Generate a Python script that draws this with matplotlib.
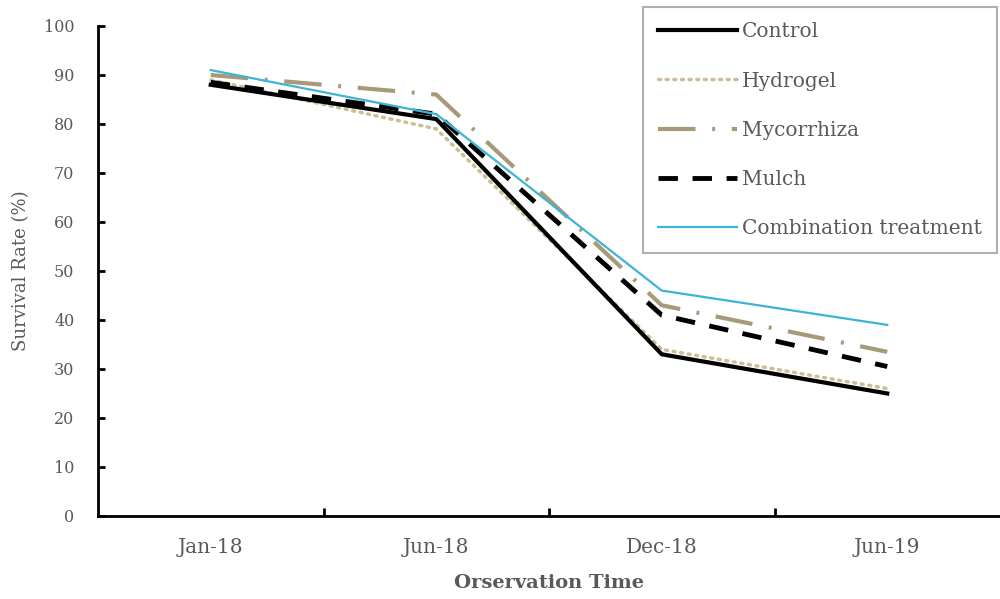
import matplotlib
matplotlib.use("Agg")
import matplotlib.pyplot as plt

# Survival rate (%) per treatment at each observation time
times = ["Jan-18", "Jun-18", "Dec-18", "Jun-19"]
control = [88, 81, 33, 25]
hydrogel = [89, 79, 34, 26]
mycorrhiza = [90, 86, 43, 33.5]
mulch = [88.5, 82, 41, 30.5]
combination = [91, 82, 46, 39]

txt = "#595959"
plt.rcParams["font.family"] = ["DejaVu Serif"]

fig = plt.figure(figsize=(10, 5.99), dpi=100)
ax = fig.add_axes([0.098, 0.1386, 0.902, 0.818])

x = range(len(times))
ax.plot(x, control, color="black", lw=3, label="Control", zorder=3)
ax.plot(x, hydrogel, color="#cbbf98", lw=2.5, ls=(0, (0.6, 1.6)),
        dash_capstyle="round", label="Hydrogel", zorder=2)
ax.plot(x, mycorrhiza, color="#a89a78", lw=3, ls=(0, (9, 4, 0.7, 4)),
        label="Mycorrhiza", zorder=2)
ax.plot(x, mulch, color="black", lw=3.5, ls=(0, (4, 3)),
        label="Mulch", zorder=3)
ax.plot(x, combination, color="#3cb4d6", lw=1.6,
        label="Combination treatment", zorder=4)

ax.set_xlim(-0.5, len(times) - 0.5)
ax.set_ylim(0, 100)
ax.set_yticks(range(0, 101, 10))
ax.set_xticks(list(x))
ax.set_xticklabels(times)
ax.set_xticks([0.5, 1.5, 2.5], minor=True)

for s in ["top", "right"]:
    ax.spines[s].set_visible(False)
for s in ["left", "bottom"]:
    ax.spines[s].set_linewidth(2)

ax.tick_params(axis="y", direction="in", length=5, width=2,
               labelsize=11.5, labelcolor=txt, pad=17)
ax.tick_params(axis="x", which="major", length=0, labelsize=14.5,
               labelcolor=txt, pad=16)
ax.tick_params(axis="x", which="minor", direction="in", length=6, width=2)

ax.set_xlabel("Orservation Time", fontsize=14, fontweight="bold",
              color=txt, labelpad=12)
ax.set_ylabel("Survival Rate (%)", fontsize=13, color=txt, labelpad=10)

leg = fig.legend(loc="upper right", bbox_to_anchor=(0.997, 0.988),
                 borderaxespad=0, fontsize=14.5, handlelength=3.9,
                 handletextpad=0.25, labelspacing=1.5, borderpad=0.75,
                 fancybox=False, edgecolor="#b0b0b0", framealpha=1)
leg.get_frame().set_linewidth(1.5)
for t in leg.get_texts():
    t.set_color(txt)

fig.savefig("out.png", dpi=100)
